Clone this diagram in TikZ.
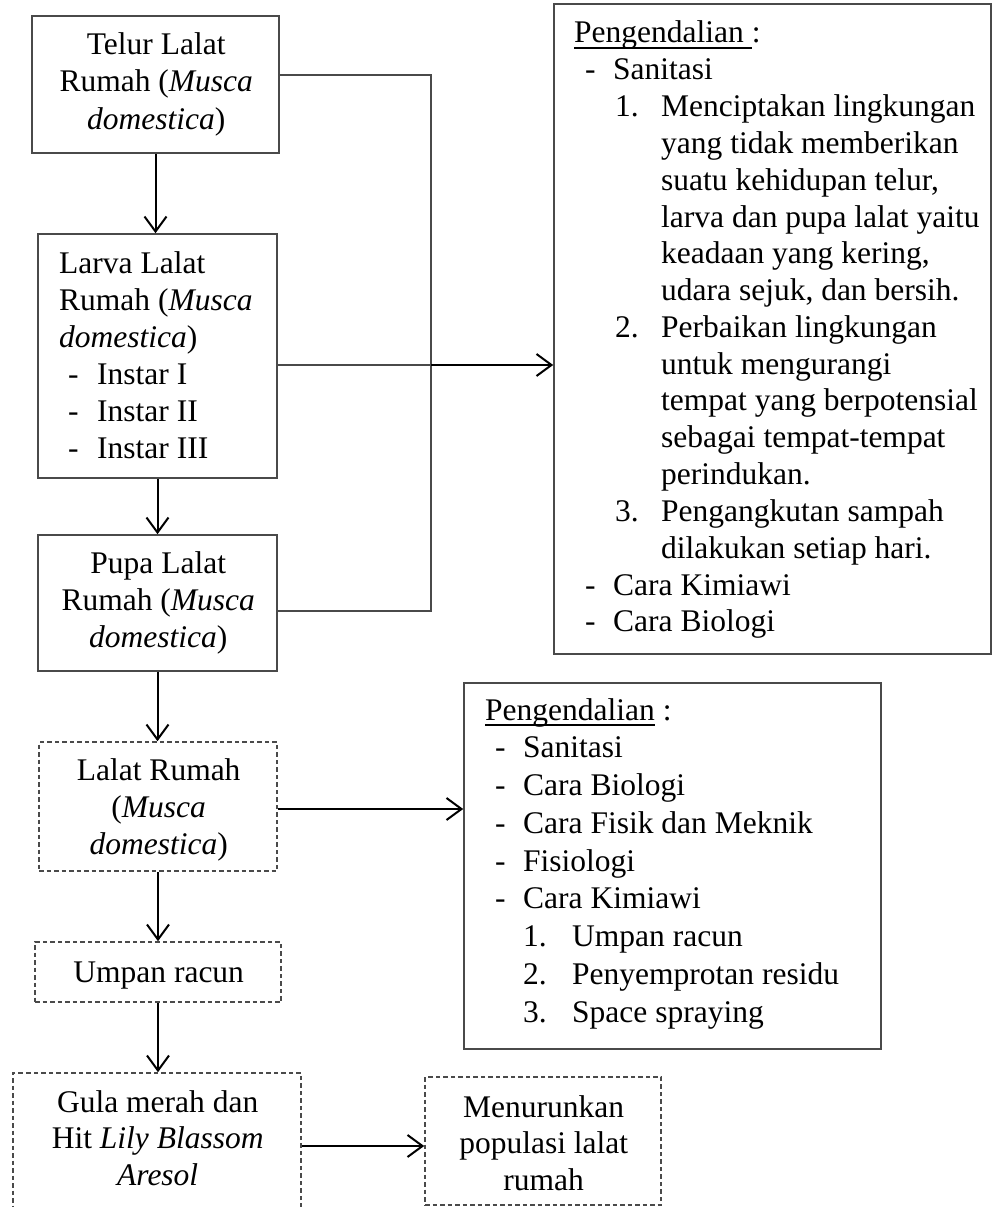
\documentclass[tikz,border=0pt]{standalone}
\usepackage{fontspec}
\setmainfont{Liberation Serif}
\usetikzlibrary{arrows.meta}
\definecolor{edge}{HTML}{4A4A4A}
\newcommand\myul[1]{\setbox0\hbox{#1}\rlap{\rule[-6pt]{\wd0}{1.6pt}}\box0{}}
\newcommand\cln[1]{\hbox to 0pt{\hss#1\hss}}
\newcommand\lln[1]{\hbox{#1}}
\newcommand\dln[1]{\hbox{\hspace{11pt}\makebox[28pt][l]{-}#1}}
\newcommand\nln[2]{\hbox{\hspace{41pt}\makebox[46pt][l]{#1}#2}}
\newcommand\cnt[1]{\hbox{\hspace{87pt}#1}}
\newcommand\dlnb[1]{\hbox{\hspace{10pt}\makebox[28pt][l]{-}#1}}
\newcommand\nlnb[2]{\hbox{\hspace{38pt}\makebox[49pt][l]{#1}#2}}
\newcommand\ilnb[1]{\hbox{\hspace{9pt}\makebox[29pt][l]{-}#1}}
\newcommand\Lines[2]{\vtop{\baselineskip=#1\lineskiplimit=-100pt\lineskip=0pt #2}}
\begin{document}
\begin{tikzpicture}[x=1pt,y=-1pt,
  every node/.style={font=\fontsize{31.5}{36.8}\selectfont},
  box/.style={draw=edge, line width=1.6pt, inner sep=0pt},
  dbox/.style={box, dash pattern=on 4.5pt off 3pt},
  txt/.style={inner sep=0pt, anchor=base west},
  arr/.style={line width=2pt, -{Straight Barb[length=15pt,width=22pt]}},
  thin/.style={draw=edge, line width=1.5pt}]
\useasboundingbox (0,0) rectangle (992,1207);
% boxes
\node[box, minimum width=247pt, minimum height=137pt] (telur) at (155.5,84.5) {};
\node[box, minimum width=239pt, minimum height=244pt] (larva) at (157.5,356) {};
\node[box, minimum width=239pt, minimum height=136pt] (pupa) at (157.5,603) {};
\node[dbox, minimum width=238pt, minimum height=129pt] (lalat) at (158,806.5) {};
\node[dbox, minimum width=246pt, minimum height=60pt] (umpan) at (158,972) {};
\node[dbox, minimum width=288pt, minimum height=139pt] (gula) at (157,1142.5) {};
\node[dbox, minimum width=236pt, minimum height=128pt] (turun) at (543,1141) {};
\node[box, minimum width=437pt, minimum height=650pt] (peng1) at (772.5,329) {};
\node[box, minimum width=417pt, minimum height=366pt] (peng2) at (672.5,866) {};
% texts
\node[txt] (ttelur) at (155.5,55) {\Lines{37pt}{\cln{Telur Lalat}\cln{Rumah (\textit{Musca}}\cln{\textit{domestica})}}};
\node[txt] (tlarva) at (59,273) {\Lines{37pt}{\lln{Larva Lalat}\lln{Rumah (\textit{Musca}}\lln{\textit{domestica})}\ilnb{Instar I}\ilnb{Instar II}\ilnb{Instar III}}};
\node[txt] (tpupa) at (157.5,573) {\Lines{37pt}{\cln{Pupa Lalat}\cln{Rumah (\textit{Musca}}\cln{\textit{domestica})}}};
\node[txt] (tlalat) at (158,780) {\Lines{37pt}{\cln{Lalat Rumah}\cln{(\textit{Musca}}\cln{\textit{domestica})}}};
\node[txt] (tumpan) at (158,982) {\Lines{37pt}{\cln{Umpan racun}}};
\node[txt] (tgula) at (157,1112) {\Lines{36.5pt}{\cln{Gula merah dan}\cln{Hit \textit{Lily Blassom}}\cln{\textit{Aresol}}}};
\node[txt] (tturun) at (543,1117) {\Lines{36.5pt}{\cln{Menurunkan}\cln{populasi lalat}\cln{rumah}}};
\node[txt] (tpeng1) at (574,43) {\Lines{36.8pt}{%
  \lln{\myul{Pengendalian }:}%
  \dln{Sanitasi}%
  \nln{1.}{Menciptakan lingkungan}%
  \cnt{yang tidak memberikan}%
  \cnt{suatu kehidupan telur,}%
  \cnt{larva dan pupa lalat yaitu}%
  \cnt{keadaan yang kering,}%
  \cnt{udara sejuk, dan bersih.}%
  \nln{2.}{Perbaikan lingkungan}%
  \cnt{untuk mengurangi}%
  \cnt{tempat yang berpotensial}%
  \cnt{sebagai tempat-tempat}%
  \cnt{perindukan.}%
  \nln{3.}{Pengangkutan sampah}%
  \cnt{dilakukan setiap hari.}%
  \dln{Cara Kimiawi}%
  \dln{Cara Biologi}}};
\node[txt] (tpeng2) at (485,720) {\Lines{37.75pt}{%
  \lln{\myul{Pengendalian} :}%
  \dlnb{Sanitasi}%
  \dlnb{Cara Biologi}%
  \dlnb{Cara Fisik dan Meknik}%
  \dlnb{Fisiologi}%
  \dlnb{Cara Kimiawi}%
  \nlnb{1.}{Umpan racun}%
  \nlnb{2.}{Penyemprotan residu}%
  \nlnb{3.}{Space spraying}}};
% junctions
\coordinate (jt) at (431,75);
\coordinate (jl) at (431,365);
\coordinate (jp) at (431,611);
\coordinate (yg) at (0,1146);
\coordinate (yl) at (0,809);
% connectors
\draw[arr] (telur.south) -- (telur.south |- larva.north);
\draw[arr] (larva.south) -- (larva.south |- pupa.north);
\draw[arr] (pupa.south) -- (pupa.south |- lalat.north);
\draw[arr] (lalat.south) -- (lalat.south |- umpan.north);
\draw[arr] (umpan.south) -- (umpan.south |- gula.north);
\draw[arr] (gula.east |- yg) -- (turun.west |- yg);
\draw[arr] (lalat.east |- yl) -- (peng2.west |- yl);
\draw[thin] (jt -| telur.east) -- (jt) -- (jp) -- (jp -| pupa.east);
\draw[thin] (jl -| larva.east) -- (jl);
\draw[arr] (jl) -- (jl -| peng1.west);
\end{tikzpicture}
\end{document}
